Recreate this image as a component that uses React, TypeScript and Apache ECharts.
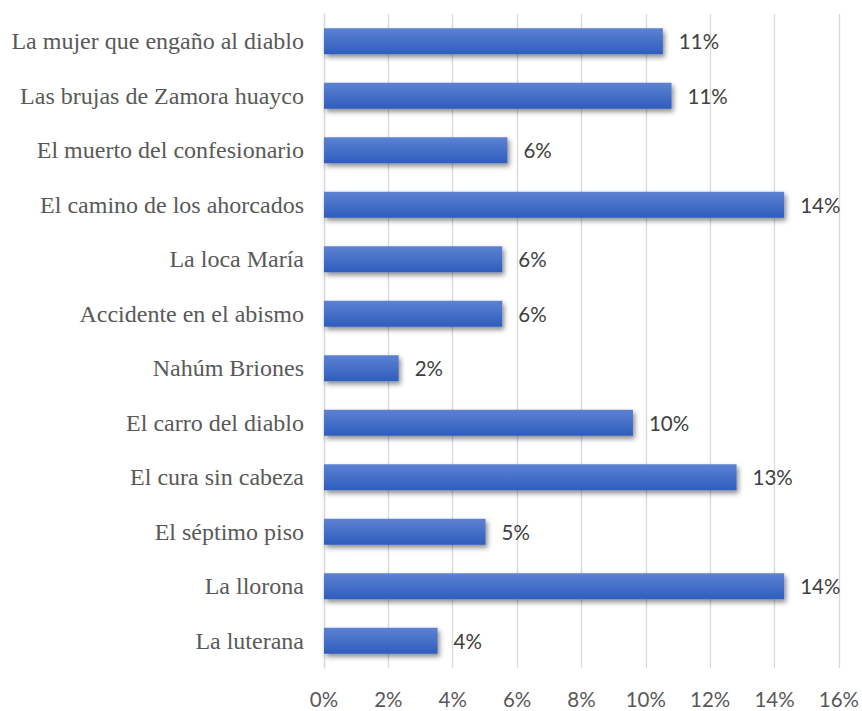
import React, { useEffect, useRef } from "react";
import * as echarts from "echarts";

const categories = [
  "La mujer que engaño al diablo",
  "Las brujas de Zamora huayco",
  "El muerto del confesionario",
  "El camino de los ahorcados",
  "La loca María",
  "Accidente en el abismo",
  "Nahúm Briones",
  "El carro del diablo",
  "El cura sin cabeza",
  "El séptimo piso",
  "La llorona",
  "La luterana",
];

const values = [10.53, 10.8, 5.7, 14.3, 5.54, 5.54, 2.32, 9.6, 12.82, 5.02, 14.3, 3.53];

const xMin = 0;
const xMax = 16;
const xInterval = 2;

export default function App() {
  const ref = useRef<HTMLDivElement>(null);
  useEffect(() => {
    if (!ref.current) return;
    const chart = echarts.init(ref.current, null, { renderer: "svg" });
    chart.setOption({
      animation: false,
      backgroundColor: "#ffffff",
      grid: { left: 324, right: 21, top: 14, bottom: 43, containLabel: false },
      xAxis: {
        type: "value",
        min: xMin,
        max: xMax,
        interval: xInterval,
        axisLine: { show: false },
        axisTick: { show: false },
        axisLabel: {
          formatter: (v: number) => `${v}%`,
          color: "#595959",
          fontFamily: "Lato",
          fontSize: 20.5,
          margin: 20,
        },
        splitLine: { show: true, lineStyle: { color: "#d9d9d9", width: 1.3 } },
      },
      yAxis: {
        type: "category",
        data: categories,
        inverse: true,
        axisLine: { show: true, lineStyle: { color: "#d9d9d9", width: 1.3 } },
        axisTick: { show: false },
        axisLabel: {
          color: "#595959",
          fontFamily: "Liberation Serif",
          fontSize: 24,
          margin: 20,
        },
      },
      series: [
        {
          type: "bar",
          data: values,
          barWidth: "48%",
          itemStyle: {
            color: new echarts.graphic.LinearGradient(0, 0, 0, 1, [
              { offset: 0, color: "#5d82d2" },
              { offset: 1, color: "#2e5dbd" },
            ]),
            shadowColor: "rgba(0,0,0,0.45)",
            shadowBlur: 5,
            shadowOffsetX: 2,
            shadowOffsetY: 3,
          },
          label: {
            show: true,
            position: "right",
            distance: 16,
            formatter: (p: any) => `${Math.round(p.value)}%`,
            color: "#404040",
            fontFamily: "Lato",
            fontSize: 20.5,
          },
        },
      ],
    });
    return () => chart.dispose();
  }, []);
  return (
    <div
      ref={ref}
      style={{ position: "fixed", left: 0, top: 0, width: 862, height: 711 }}
    />
  );
}
